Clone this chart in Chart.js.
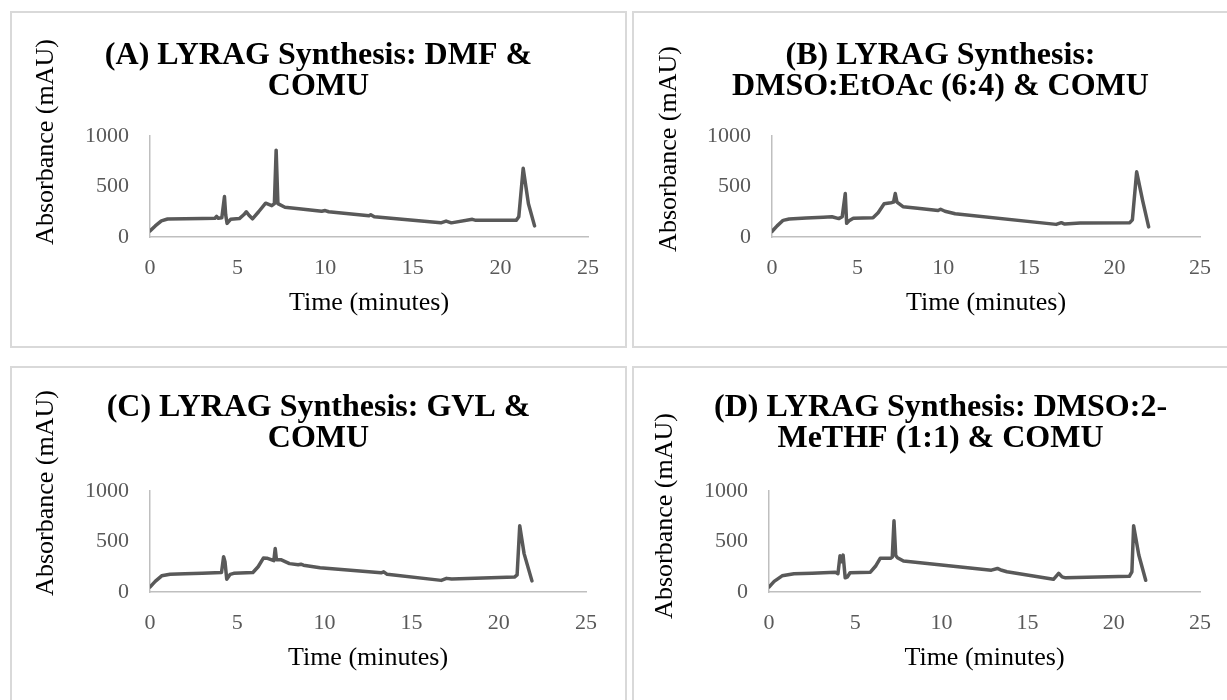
<!DOCTYPE html>
<html>
<head>
<meta charset="utf-8">
<script src="https://cdn.jsdelivr.net/npm/chart.js@4.4.1/dist/chart.umd.min.js"></script>
<style>
  body { margin: 0; width: 1227px; height: 700px; overflow: hidden; background: #fff; }
  .panel { position: absolute; width: 617px; height: 337px; border: 2px solid #d9d9d9; box-sizing: border-box; }
  .panel canvas { position: absolute; left: 0; top: 0; }
</style>
</head>
<body>
<div class="panel" style="left:10px;top:11px"><canvas id="chartA" width="613" height="333"></canvas></div>
<div class="panel" style="left:632px;top:11px"><canvas id="chartB" width="613" height="333"></canvas></div>
<div class="panel" style="left:10px;top:366px"><canvas id="chartC" width="613" height="333"></canvas></div>
<div class="panel" style="left:632px;top:366px"><canvas id="chartD" width="613" height="333"></canvas></div>
<script>
// chromatogram traces (time in minutes, absorbance in mAU)
var timeA = [0, 0.3, 0.65, 1.0, 2, 3, 3.7, 3.8, 3.9, 4.1, 4.25, 4.32, 4.4, 4.6, 5.1, 5.35, 5.5, 5.65, 5.85, 6.2, 6.6, 6.95, 7.1, 7.2, 7.3, 7.7, 8.5, 9.8, 10.0, 10.2, 12.5, 12.6, 12.8, 16.6, 16.9, 17.2, 18.4, 18.6, 20.9, 21.05, 21.3, 21.6, 21.95];
var absA  = [60, 110, 160, 178, 180, 182, 185, 205, 185, 190, 400, 220, 135, 175, 182, 220, 250, 215, 180, 250, 335, 310, 330, 860, 330, 295, 280, 255, 262, 250, 210, 220, 200, 140, 158, 140, 175, 165, 165, 200, 680, 330, 110];

var timeB = [0, 0.3, 0.65, 1.0, 2, 3, 3.5, 3.9, 4.1, 4.28, 4.36, 4.5, 4.75, 5.9, 6.2, 6.55, 6.95, 7.1, 7.2, 7.3, 7.65, 8.5, 9.7, 9.85, 10.1, 10.7, 16.6, 16.9, 17.1, 18, 20.9, 21.05, 21.3, 21.65, 22.0];
var absB  = [55, 110, 165, 178, 188, 196, 200, 182, 200, 430, 135, 160, 185, 190, 240, 330, 340, 345, 430, 345, 300, 285, 262, 275, 255, 230, 125, 142, 128, 138, 142, 170, 645, 360, 100];

var timeC = [0, 0.3, 0.67, 1.15, 2, 3, 4.1, 4.22, 4.3, 4.4, 4.6, 4.8, 5.9, 6.2, 6.5, 6.7, 7.1, 7.18, 7.25, 7.5, 8.0, 8.5, 8.65, 8.8, 9.75, 13.25, 13.4, 13.6, 16.7, 17.0, 17.3, 20.9, 21.05, 21.2, 21.45, 21.9];
var absC  = [50, 105, 160, 176, 180, 185, 193, 350, 300, 127, 175, 185, 193, 250, 336, 335, 310, 430, 320, 320, 281, 270, 275, 265, 240, 190, 200, 175, 115, 135, 128, 148, 170, 655, 380, 110];

var timeD = [0, 0.3, 0.76, 1.45, 2.5, 3.85, 4.0, 4.12, 4.2, 4.3, 4.42, 4.55, 4.7, 5.88, 6.2, 6.45, 7.05, 7.15, 7.25, 7.35, 7.45, 7.8, 12.9, 13.25, 13.5, 13.8, 16.5, 16.8, 17.0, 17.2, 20.9, 21.05, 21.15, 21.45, 21.85];
var absD  = [50, 105, 160, 180, 185, 196, 182, 360, 300, 365, 140, 150, 190, 196, 260, 333, 333, 345, 705, 360, 340, 306, 216, 233, 215, 200, 126, 185, 150, 140, 155, 200, 655, 366, 116];

var xTicks = [0, 5, 10, 15, 20, 25];
var yTicks = [0, 500, 1000];

var titleA = ['(A) LYRAG Synthesis: DMF &', 'COMU'];
var titleB = ['(B) LYRAG Synthesis:', 'DMSO:EtOAc (6:4) & COMU'];
var titleC = ['(C) LYRAG Synthesis: GVL &', 'COMU'];
var titleD = ['(D) LYRAG Synthesis: DMSO:2-', 'MeTHF (1:1) & COMU'];

var xAxisTitle = 'Time (minutes)';
var yAxisTitle = 'Absorbance (mAU)';

// rotated y title drawn where the original places it
var yTitlePlugin = {
    id: 'yTitle',
    afterDraw: function (chart, args, opts) {
        var ctx = chart.ctx;
        ctx.save();
        ctx.translate(opts.x, opts.y);
        ctx.rotate(-Math.PI / 2);
        ctx.font = '26px "Liberation Serif"';
        ctx.fillStyle = '#000000';
        ctx.textAlign = 'center';
        ctx.textBaseline = 'middle';
        ctx.fillText(yAxisTitle, 0, 0);
        ctx.restore();
    }
};

function makeChart(id, title, times, values, geo) {
    var points = times.map(function (t, i) { return {x: t, y: values[i]}; });

    var ctx = document.getElementById(id);
    var chart = new Chart(ctx, {
        type: 'line',
        data: {
            datasets: [{
                data: points,
                borderColor: '#595959',
                borderWidth: 3.5,
                borderJoinStyle: 'round',
                borderCapStyle: 'round',
                pointRadius: 0,
                tension: 0,
                fill: false
            }]
        },
        options: {
            responsive: false,
            animation: false,
            layout: {padding: {left: geo.side, right: geo.side, top: 0, bottom: 19}},
            plugins: {
                legend: {display: false},
                tooltip: {enabled: false},
                title: {
                    display: true,
                    text: title,
                    color: '#000000',
                    font: {family: 'Liberation Serif', size: 32, weight: 'bold', lineHeight: '31px'},
                    padding: {top: geo.titleTop, bottom: 123 - geo.titleTop - 62}
                },
                yTitle: {x: geo.yx, y: geo.yy}
            },
            scales: {
                x: {
                    type: 'linear',
                    min: 0,
                    max: 25,
                    afterBuildTicks: function (axis) { axis.ticks = xTicks.map(function (v) { return {value: v}; }); },
                    afterFit: function (axis) { axis.height = 90; },
                    grid: {display: false, drawTicks: false},
                    border: {color: '#bfbfbf', width: 1.5},
                    ticks: {color: '#595959', padding: 18, maxRotation: 0, font: {family: 'Liberation Serif', size: 22},
                        callback: function (v) { return String(v); }},
                    title: {display: true, text: xAxisTitle, color: '#000000', padding: {top: 0, bottom: 8},
                        font: {family: 'Liberation Serif', size: 26}}
                },
                y: {
                    min: 0,
                    max: 1000,
                    afterBuildTicks: function (axis) { axis.ticks = yTicks.map(function (v) { return {value: v}; }); },
                    afterFit: function (axis) { axis.width = geo.left - geo.side; },
                    grid: {display: false, drawTicks: false},
                    border: {color: '#bfbfbf', width: 1.5},
                    ticks: {color: '#595959', padding: 21, font: {family: 'Liberation Serif', size: 22},
                        callback: function (v) { return String(v); }}
                }
            }
        },
        plugins: [yTitlePlugin]
    });
    return chart;
}

makeChart('chartA', titleA, timeA, absA, {left: 138, side: 37, titleTop: 27, yx: 34, yy: 129});
makeChart('chartB', titleB, timeB, absB, {left: 138, side: 47, titleTop: 27, yx: 35, yy: 136});
makeChart('chartC', titleC, timeC, absC, {left: 138, side: 39, titleTop: 24, yx: 34, yy: 125});
makeChart('chartD', titleD, timeD, absD, {left: 135, side: 47, titleTop: 24, yx: 31, yy: 148});
</script>
</body>
</html>
